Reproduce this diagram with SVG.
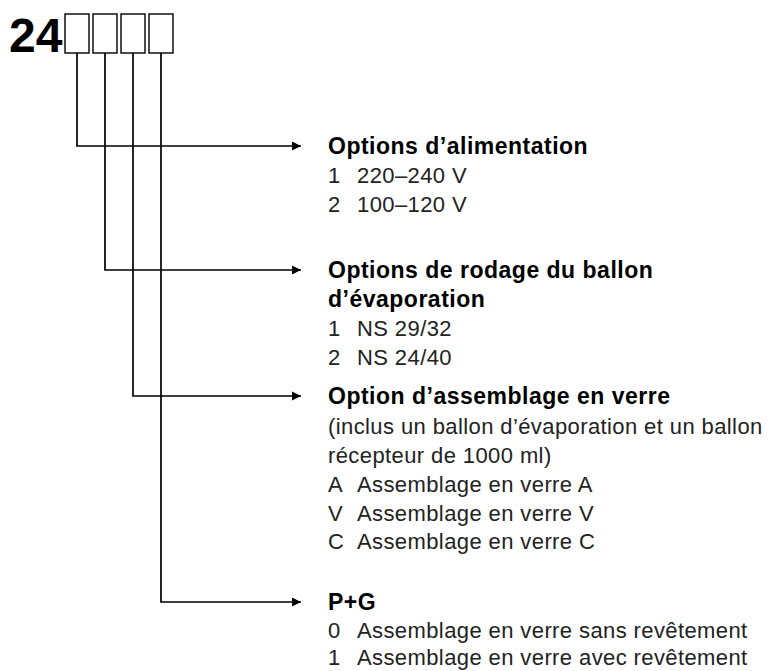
<svg xmlns="http://www.w3.org/2000/svg" width="769" height="671" viewBox="0 0 769 671">
<defs>
<style>
.code{font-family:"Liberation Sans",Arial,sans-serif;font-weight:bold;font-size:48px;fill:#000}
.box{fill:#fff;stroke:#000;stroke-width:1.4}
.t{font-family:"Liberation Sans",Arial,sans-serif;font-weight:bold;font-size:23px;letter-spacing:0.5px;fill:#000}
.r{font-family:"Liberation Sans",Arial,sans-serif;font-size:22px;letter-spacing:0.4px;fill:#222}
.ln{fill:none;stroke:#000;stroke-width:1.7}
</style>
<marker id="ah" viewBox="0 0 10 10" refX="10" refY="5" markerWidth="9" markerHeight="11" markerUnits="userSpaceOnUse" orient="auto">
<path d="M0,0 L10,5 L0,10 Z" fill="#000"/>
</marker>
</defs>
<rect width="769" height="671" fill="#fff"/>

<g id="code">
<text class="code" x="9" y="52">24</text>
<rect class="box" x="65" y="14" width="24" height="39"/>
<rect class="box" x="93" y="14" width="24" height="39"/>
<rect class="box" x="121" y="14" width="24" height="39"/>
<rect class="box" x="149" y="14" width="24" height="39"/>
</g>

<g id="connectors">
<path class="ln" d="M77,53 V146 H301" marker-end="url(#ah)"/>
<path class="ln" d="M105,53 V270 H301" marker-end="url(#ah)"/>
<path class="ln" d="M133,53 V396 H301" marker-end="url(#ah)"/>
<path class="ln" d="M161,53 V602 H301" marker-end="url(#ah)"/>
</g>

<g id="opt-alimentation">
<text class="t" x="328" y="154">Options d’alimentation</text>
<text class="r" x="328" y="183">1</text><text class="r" x="357" y="183">220–240 V</text>
<text class="r" x="328" y="212">2</text><text class="r" x="357" y="212">100–120 V</text>
</g>

<g id="opt-rodage">
<text class="t" x="328" y="278">Options de rodage du ballon</text>
<text class="t" x="328" y="307">d’évaporation</text>
<text class="r" x="328" y="336">1</text><text class="r" x="357" y="336">NS 29/32</text>
<text class="r" x="328" y="365">2</text><text class="r" x="357" y="365">NS 24/40</text>
</g>

<g id="opt-verre">
<text class="t" x="328" y="404">Option d’assemblage en verre</text>
<text class="r" x="328" y="434">(inclus un ballon d’évaporation et un ballon</text>
<text class="r" x="328" y="463">récepteur de 1000 ml)</text>
<text class="r" x="328" y="492">A</text><text class="r" x="357" y="492">Assemblage en verre A</text>
<text class="r" x="328" y="521">V</text><text class="r" x="357" y="521">Assemblage en verre V</text>
<text class="r" x="328" y="549">C</text><text class="r" x="357" y="549">Assemblage en verre C</text>
</g>

<g id="opt-pg">
<text class="t" x="328" y="610">P+G</text>
<text class="r" x="328" y="638">0</text><text class="r" x="357" y="638">Assemblage en verre sans revêtement</text>
<text class="r" x="328" y="665">1</text><text class="r" x="357" y="665">Assemblage en verre avec revêtement</text>
</g>
</svg>
